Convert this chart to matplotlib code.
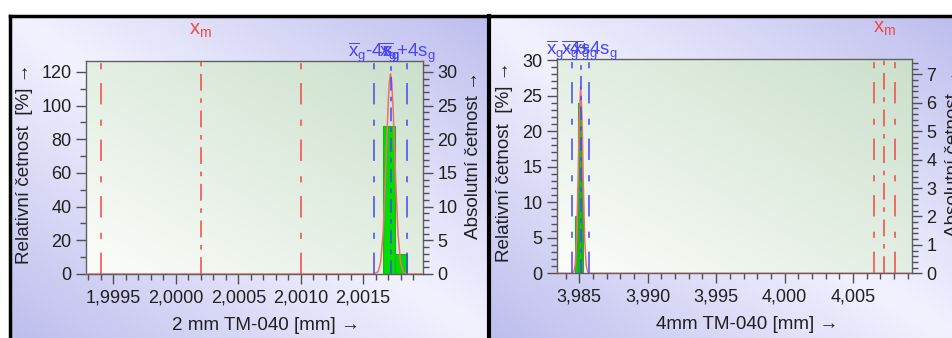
import numpy as np
import matplotlib.pyplot as plt
from matplotlib.ticker import MultipleLocator, FuncFormatter

plt.rcParams['font.family'] = ['Liberation Sans', 'DejaVu Sans']
plt.rcParams['mathtext.fontset'] = 'custom'
plt.rcParams['mathtext.rm'] = 'Liberation Sans'
plt.rcParams['mathtext.it'] = 'Liberation Sans'

n_parts = 25

# 2 mm gauge
bars2_left = [2.00166, 2.001755]
bar2_width = 0.000095
counts2 = [22, 3]
lsl2, xm2, usl2 = 1.9994, 2.0002, 2.0010
lo2, mean2, hi2 = 2.001586, 2.00172, 2.001852
curve2_x = [1.99928, 2.00158, 2.00162, 2.00164, 2.00166, 2.00168, 2.00169, 2.00170, 2.00171, 2.00172,
            2.00173, 2.00174, 2.00175, 2.00176, 2.00178, 2.00180, 2.00182, 2.00186, 2.00198]
curve2_y = [0, 0, 1.3, 6.7, 23.5, 57.9, 79.4, 99.4, 113.8, 119, 113.8, 99.4, 79.4, 57.9, 23.5, 6.7, 1.3, 0, 0]

# 4 mm gauge
bars4_left = [3.9847, 3.9848, 3.9849, 3.9850, 3.9851, 3.9852]
bar4_width = 0.0001
counts4 = [2, 3, 6, 6, 5, 3]
lsl4, xm4, usl4 = 4.0065, 4.0073, 4.0081
lo4, mean4, hi4 = 3.98447, 3.9851, 3.98573
curve4_x = [3.98337, 3.9845, 3.9846, 3.9847, 3.9848, 3.9849, 3.9850, 3.9851, 3.9852, 3.9853,
            3.9854, 3.9855, 3.9856, 3.9857, 4.00931]
curve4_y = [0, 0, 0.2, 1.2, 4.5, 12.0, 21.6, 26.3, 21.6, 12.0, 4.5, 1.2, 0.2, 0, 0]

RED = '#f04848'
BLUE = '#4848f0'
CURVE = '#f07070'
GREEN = '#00dd00'

W, H = 952, 338
fig = plt.figure(figsize=(W / 100, H / 100), dpi=100)

# panel backgrounds
bg = fig.add_axes([0, 0, 1, 1])
bg.set_xlim(0, W)
bg.set_ylim(H, 0)
bg.axis('off')
uu, vv = np.meshgrid(np.linspace(0, 1, 200), np.linspace(0, 1, 200))
t = np.abs(uu - vv)
light = np.array([242, 242, 255]) / 255
dark = np.array([190, 190, 238]) / 255
grad = light + (dark - light) * t[..., None]
bg.imshow(grad, extent=(10, 488, H, 16), aspect='auto', zorder=0)
bg.imshow(grad, extent=(489, W, H, 16), aspect='auto', zorder=0)
bg.plot([9.5, 9.5], [H, 15.5], color='black', lw=2.5)
bg.plot([9.5, W], [15.5, 15.5], color='black', lw=2.5)
bg.plot([488.5, 488.5], [H, 15.5], color='black', lw=3)

# plot area gradient
pu, pv = np.meshgrid(np.linspace(0, 1, 200), np.linspace(1, 0, 200))
pt = np.clip((pu + pv) / 2, 0, 1)
p_light = np.array([252, 253, 250]) / 255
p_dark = np.array([203, 224, 203]) / 255
pgrad = p_light + (p_dark - p_light) * pt[..., None]

ax1 = fig.add_axes([86 / W, (H - 274) / H, (423 - 86) / W, (274 - 61) / H])
ax2 = fig.add_axes([557 / W, (H - 273.3) / H, (912 - 557) / W, (273.3 - 59) / H])

TICK_FS = 13
LABEL_FS = 13.6


def dress(ax, bars_left, width, counts, lsl, xm, usl, lo, mean, hi, cx, cy,
          xlim, ylim, xmaj, xmin, ymaj, ymin, rmaj, rmin, fmt, xlabel):
    ax.imshow(pgrad, extent=(0, 1, 0, 1), transform=ax.transAxes, aspect='auto', zorder=0)
    rel = [c / n_parts * 100 for c in counts]
    ax.bar(bars_left, rel, width=width, align='edge', color=GREEN, edgecolor='#20b020',
           lw=0.8, zorder=2)
    ax.plot(cx, cy, color=CURVE, lw=1.1, zorder=3)
    for x, d in [(lsl, (14, 9, 4, 10)), (xm, (11, 5, 3, 5)), (usl, (14, 9, 4, 10))]:
        ax.axvline(x, color=RED, lw=1.1, dashes=d, zorder=4)
    for x, d in [(lo, (14, 9, 4, 10)), (mean, (9, 4, 3, 4)), (hi, (14, 9, 4, 10))]:
        ax.axvline(x, color=BLUE, lw=1.1, dashes=d, zorder=4)
    ax.set_xlim(*xlim)
    ax.set_ylim(*ylim)
    lab_lo = r'$\overline{\mathrm{x}}_{\mathrm{g}}$-4s$_{\mathrm{g}}$'
    lab_m = r'$\overline{\mathrm{x}}_{\mathrm{g}}$'
    lab_hi = r'$\overline{\mathrm{x}}_{\mathrm{g}}$+4s$_{\mathrm{g}}$'
    for x, s in [(lo, lab_lo), (mean, lab_m), (hi, lab_hi)]:
        ax.annotate(s, xy=(x, 1), xycoords=('data', 'axes fraction'), xytext=(0, 3),
                    textcoords='offset points', ha='center', va='baseline',
                    color=BLUE, fontsize=13.5, annotation_clip=False)
    ax.annotate(r'x$_{\mathrm{m}}$', xy=(xm, 1), xycoords=('data', 'axes fraction'),
                xytext=(0, 19), textcoords='offset points', ha='center', va='baseline',
                color=RED, fontsize=14.5, annotation_clip=False)
    ax.xaxis.set_major_locator(MultipleLocator(xmaj))
    ax.xaxis.set_minor_locator(MultipleLocator(xmin))
    ax.xaxis.set_major_formatter(FuncFormatter(lambda v, p: fmt.format(v).replace('.', ',')))
    ax.yaxis.set_major_locator(MultipleLocator(ymaj))
    ax.yaxis.set_minor_locator(MultipleLocator(ymin))
    ax.tick_params(axis='both', which='major', labelsize=TICK_FS, color='#505050',
                   labelcolor='#202020', length=7.5, width=1)
    ax.tick_params(axis='both', which='minor', color='#505050', length=4, width=1)
    ax.tick_params(axis='x', pad=3.5)
    ax.tick_params(axis='y', pad=3)
    for sp in ax.spines.values():
        sp.set_color('#606060')
        sp.set_linewidth(1)
    ax.set_xlabel(xlabel, fontsize=LABEL_FS, color='#202020')
    ax.set_ylabel('Relativní četnost  [%] →', fontsize=LABEL_FS, color='#202020')
    ax.xaxis.set_label_coords(0.535, -0.2)

    axr = ax.twinx()
    axr.set_ylim(ylim[0] / 4, ylim[1] / 4)
    axr.yaxis.set_major_locator(MultipleLocator(rmaj))
    axr.yaxis.set_minor_locator(MultipleLocator(rmin))
    axr.tick_params(axis='y', which='major', labelsize=TICK_FS, color='#505050',
                    labelcolor='#202020', length=7.5, width=1, pad=3)
    axr.tick_params(axis='y', which='minor', color='#505050', length=4, width=1)
    for sp in axr.spines.values():
        sp.set_visible(False)
    axr.set_ylabel('Absolutní četnost →', fontsize=LABEL_FS, color='#202020')
    return axr


r1 = dress(ax1, bars2_left, bar2_width, counts2, lsl2, xm2, usl2, lo2, mean2, hi2,
           curve2_x, curve2_y, (1.99928, 2.00198), (0, 126.5), 0.0005, 0.0001, 20, 10, 5, 1,
           '{:.4f}', '2 mm TM-040 [mm] →')
r2 = dress(ax2, bars4_left, bar4_width, counts4, lsl4, xm4, usl4, lo4, mean4, hi4,
           curve4_x, curve4_y, (3.98337, 4.00931), (0, 30.15), 0.005, 0.001, 5, 1, 1, 0.2,
           '{:.3f}', '4mm TM-040 [mm] →')

ax1.yaxis.set_label_coords(-0.157, 0.52)
r1.yaxis.set_label_coords(1.125, 0.56)
ax2.yaxis.set_label_coords(-0.124, 0.52)
r2.yaxis.set_label_coords(1.093, 0.56)

fig.savefig('out.png', dpi=100)
